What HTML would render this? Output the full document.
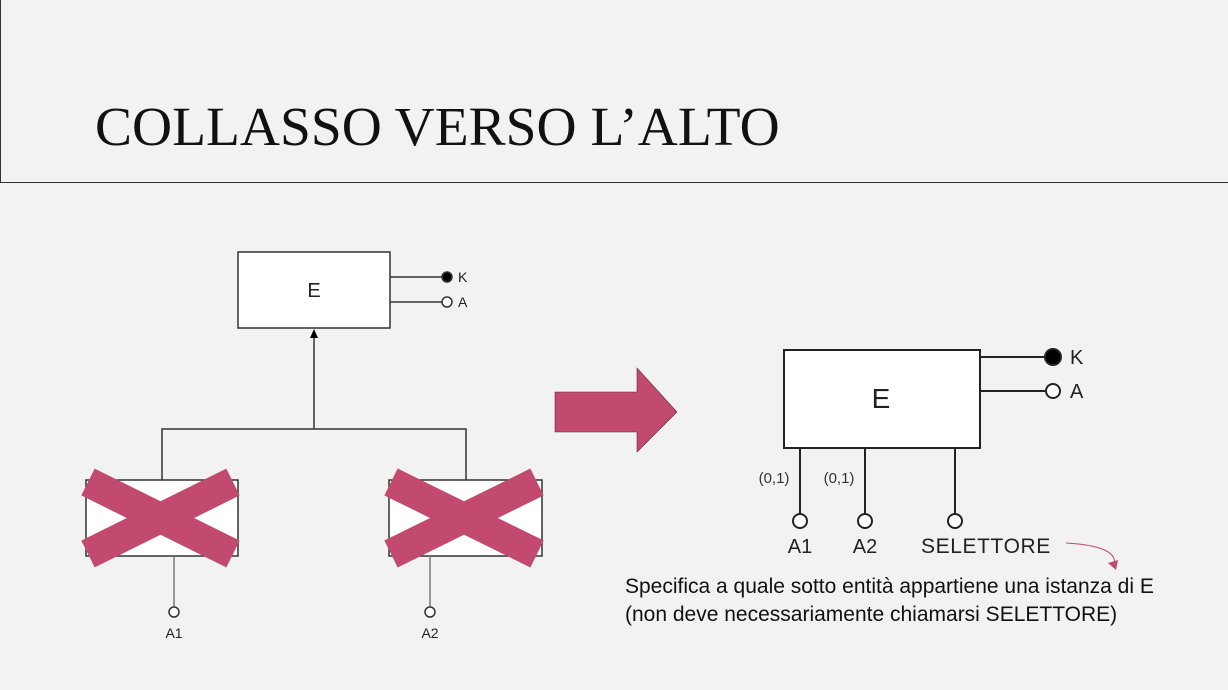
<!DOCTYPE html>
<html><head><style>
body{margin:0;width:1228px;height:690px;background:#f1f2f1;overflow:hidden;position:relative;font-family:"Liberation Sans",sans-serif}
.t{position:absolute;left:95px;top:96px;font-family:"Liberation Serif",serif;font-size:55.5px;letter-spacing:0px;color:#111;white-space:nowrap;font-weight:normal}
.d{position:absolute;left:625px;font-size:21px;color:#111;white-space:nowrap}
</style></head><body>
<div style="position:absolute;left:0;top:0;width:1px;height:182px;background:#333"></div>
<div style="position:absolute;left:0;top:182px;width:1228px;height:1px;background:#333"></div>
<div class="t">COLLASSO VERSO L’ALTO</div>
<svg width="1228" height="690" style="position:absolute;left:0;top:0" font-family="Liberation Sans, sans-serif">
<g stroke="#333" stroke-width="1.5" fill="#fff">
<rect x="238" y="252" width="152" height="76"/>
<line x1="390" y1="277" x2="442" y2="277"/>
<line x1="390" y1="302" x2="442" y2="302"/>
<circle cx="447" cy="277" r="5" fill="#000"/>
<circle cx="447" cy="302" r="5"/>
<line x1="314" y1="429" x2="314" y2="335"/>
<polyline points="162,480 162,429 466,429 466,480" fill="none"/>
<rect x="86" y="480" width="152" height="76"/>
<rect x="389" y="480" width="153" height="76"/>
<line x1="174" y1="556" x2="174" y2="607" stroke="#777"/>
<line x1="430" y1="556" x2="430" y2="607" stroke="#777"/>
<circle cx="174" cy="612" r="5"/>
<circle cx="430" cy="612" r="5"/>
</g>
<polygon points="314,329 310,338 318,338" fill="#000"/>
<text x="314" y="297" font-size="20" text-anchor="middle" fill="#222">E</text>
<text x="458" y="282" font-size="14" fill="#222">K</text>
<text x="458" y="307" font-size="14" fill="#222">A</text>
<text x="174" y="638" font-size="14" text-anchor="middle" fill="#222">A1</text>
<text x="430" y="638" font-size="14" text-anchor="middle" fill="#222">A2</text>
<g stroke="#c14a6e" stroke-width="30">
<line x1="88" y1="482" x2="233" y2="554"/>
<line x1="88" y1="554" x2="233" y2="482"/>
<line x1="391" y1="482" x2="537" y2="554"/>
<line x1="391" y1="554" x2="537" y2="482"/>
</g>
<g fill="#c14a6e" stroke="#6a2a3c" stroke-width="0.6">
<polygon points="555,392 637,392 637,368 677,412 637,452 637,432 555,432"/>
</g>
<g stroke="#222" stroke-width="2" fill="#fff">
<rect x="784" y="350" width="196" height="98"/>
<line x1="980" y1="357" x2="1045" y2="357"/>
<line x1="980" y1="391" x2="1045" y2="391"/>
<circle cx="1053" cy="357" r="8" fill="#000"/>
<circle cx="1053" cy="391" r="7"/>
<line x1="800" y1="448" x2="800" y2="514"/>
<line x1="865" y1="448" x2="865" y2="514"/>
<line x1="955" y1="448" x2="955" y2="514"/>
<circle cx="800" cy="521" r="7"/>
<circle cx="865" cy="521" r="7"/>
<circle cx="955" cy="521" r="7"/>
</g>
<text x="881" y="408" font-size="28" text-anchor="middle" fill="#222">E</text>
<text x="1070" y="364" font-size="20" fill="#222">K</text>
<text x="1070" y="398" font-size="20" fill="#222">A</text>
<text x="774" y="483" font-size="15" text-anchor="middle" fill="#333">(0,1)</text>
<text x="839" y="483" font-size="15" text-anchor="middle" fill="#333">(0,1)</text>
<text x="800" y="553" font-size="20" text-anchor="middle" fill="#222">A1</text>
<text x="865" y="553" font-size="20" text-anchor="middle" fill="#222">A2</text>
<text x="921" y="553" font-size="21" letter-spacing="0.6" fill="#222">SELETTORE</text>
<path d="M1066,543 Q1120,546 1114,566" stroke="#c14a6e" fill="none" stroke-width="1"/>
<polygon points="1108,563 1116,570 1118,560" fill="#c14a6e"/>
</svg>
<div class="d" style="top:575px">Specifica a quale sotto entità appartiene una istanza di E</div>
<div class="d" style="top:603px">(non deve necessariamente chiamarsi SELETTORE)</div>
</body></html>
